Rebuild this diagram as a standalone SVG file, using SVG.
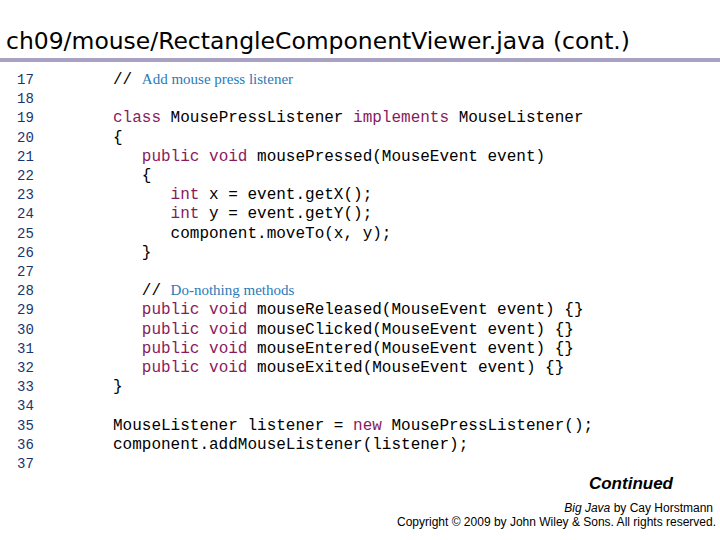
<svg xmlns="http://www.w3.org/2000/svg" width="720" height="540" viewBox="0 0 720 540">
<style>
.t{font-family:"DejaVu Sans","Liberation Sans",sans-serif;font-size:23px;fill:#000}
.n{font-family:"Liberation Mono",monospace;font-size:14px;fill:#1a3470}
.c{font-family:"Liberation Mono",monospace;font-size:16px;fill:#000;white-space:pre}
.k{fill:#8a1a5e}
.m{font-family:"Liberation Serif",serif;fill:#2a7ab8;font-size:15px}
.f{font-family:"Liberation Sans",sans-serif;font-size:12px;fill:#000}
</style>
<rect width="720" height="540" fill="#fff"/>
<g id="title">
<text class="t" x="6" y="49" textLength="624" lengthAdjust="spacingAndGlyphs">ch09/mouse/RectangleComponentViewer.java (cont.)</text>
<rect x="0" y="58" width="720" height="4" fill="#a9a1c2"/>
</g>
<g id="linenums">
<text class="n" x="17" y="84">17</text>
<text class="n" x="17" y="103">18</text>
<text class="n" x="17" y="122">19</text>
<text class="n" x="17" y="142">20</text>
<text class="n" x="17" y="161">21</text>
<text class="n" x="17" y="180">22</text>
<text class="n" x="17" y="199">23</text>
<text class="n" x="17" y="218">24</text>
<text class="n" x="17" y="238">25</text>
<text class="n" x="17" y="257">26</text>
<text class="n" x="17" y="276">27</text>
<text class="n" x="17" y="295">28</text>
<text class="n" x="17" y="314">29</text>
<text class="n" x="17" y="334">30</text>
<text class="n" x="17" y="353">31</text>
<text class="n" x="17" y="372">32</text>
<text class="n" x="17" y="391">33</text>
<text class="n" x="17" y="410">34</text>
<text class="n" x="17" y="430">35</text>
<text class="n" x="17" y="449">36</text>
<text class="n" x="17" y="468">37</text>
</g>
<g id="code">
<text class="c" x="113" y="84">// <tspan class="m">Add mouse press listener</tspan></text>
<text class="c" x="113" y="122"><tspan class="k">class</tspan> MousePressListener <tspan class="k">implements</tspan> MouseListener</text>
<text class="c" x="113" y="142">{</text>
<text class="c" x="113" y="161">   <tspan class="k">public void</tspan> mousePressed(MouseEvent event)</text>
<text class="c" x="113" y="180">   {</text>
<text class="c" x="113" y="199">      <tspan class="k">int</tspan> x = event.getX();</text>
<text class="c" x="113" y="218">      <tspan class="k">int</tspan> y = event.getY();</text>
<text class="c" x="113" y="238">      component.moveTo(x, y);</text>
<text class="c" x="113" y="257">   }</text>
<text class="c" x="113" y="295">   // <tspan class="m">Do-nothing methods</tspan></text>
<text class="c" x="113" y="314">   <tspan class="k">public void</tspan> mouseReleased(MouseEvent event) {}</text>
<text class="c" x="113" y="334">   <tspan class="k">public void</tspan> mouseClicked(MouseEvent event) {}</text>
<text class="c" x="113" y="353">   <tspan class="k">public void</tspan> mouseEntered(MouseEvent event) {}</text>
<text class="c" x="113" y="372">   <tspan class="k">public void</tspan> mouseExited(MouseEvent event) {}</text>
<text class="c" x="113" y="391">}</text>
<text class="c" x="113" y="430">MouseListener listener = <tspan class="k">new</tspan> MousePressListener();</text>
<text class="c" x="113" y="449">component.addMouseListener(listener);</text>
</g>
<g id="footer">
<text x="673" y="489" text-anchor="end" font-family="Liberation Sans,sans-serif" font-size="17" font-weight="bold" font-style="italic">Continued</text>
<text class="f" x="713" y="512" text-anchor="end"><tspan font-style="italic">Big Java</tspan> by Cay Horstmann</text>
<text class="f" x="716" y="526" text-anchor="end">Copyright © 2009 by John Wiley &amp; Sons.  All rights reserved.</text>
</g>
</svg>
